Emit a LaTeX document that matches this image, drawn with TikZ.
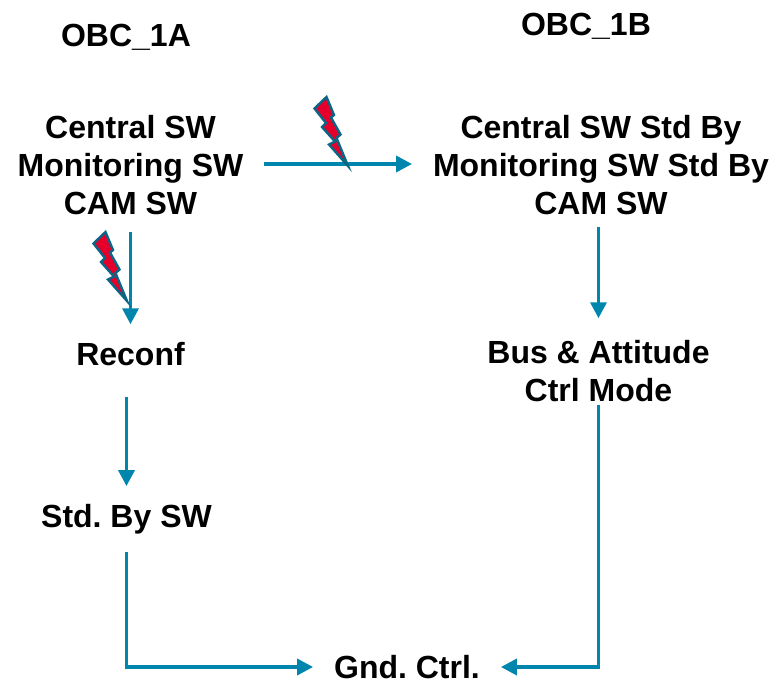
\documentclass[tikz,border=0pt]{standalone}
\usepackage{fontspec}
\setmainfont{Liberation Sans}
\usetikzlibrary{arrows.meta,calc}
\definecolor{obcfleche}{HTML}{0085AD}
\definecolor{obcbord}{HTML}{0B6585}
\definecolor{obcrouge}{HTML}{E4002B}
\frenchspacing
\tikzset{
  lbl/.style={align=center,font=\fontsize{32}{38}\selectfont\bfseries,text=black,inner sep=0pt},
  flow/.style={obcfleche,line width=3.5pt,-{Triangle[length=16pt,width=16pt]}},
  bolt/.pic={
    \draw[fill=obcrouge,draw=obcbord,line width=2.4pt,miter limit=20]
      (-21.5,-73)--(-33.5,-61.5)--(-22,-47)--(-26,-43)--(-13,-28.5)--(-19,-25.5)--(0,-4)
      --(-11.5,-32)--(-7.5,-35.5)--(-17,-52.5)--(-14,-55)--cycle;
  }
}
\begin{document}
\begin{tikzpicture}[x=1pt,y=-1pt]
  \useasboundingbox (0,0) rectangle (774,680);
  \node[lbl] (titreA) at (126,37) {OBC\_1A};
  \node[lbl] (titreB) at (586,26) {OBC\_1B};
  \node[lbl,outer xsep=21pt,outer ysep=17pt] (swA) at (130.5,165) {Central SW\\Monitoring SW\\CAM SW};
  \node[lbl,outer xsep=21pt,outer ysep=12pt] (swB) at (601,165) {Central SW Std By\\Monitoring SW Std By\\CAM SW};
  \node[lbl,outer sep=18pt] (reconf) at (130.5,354) {Reconf};
  \node[lbl,outer sep=22pt] (modeB) at (598.5,371) {Bus \& Attitude\\Ctrl Mode};
  \node[lbl,outer sep=18pt] (stdby) at (126.5,519) {Std. By SW};
  \node[lbl,outer sep=21pt] (gnd) at (407,667) {Gnd. Ctrl.};
  \coordinate (reconfbas) at (126.5,397);
  \coordinate (modebas) at (598.5,405);
  % fleches
  \draw[flow] (swA.east|-0,164) -- (swB.west|-0,164);
  \draw[flow] (swA.south) -- (reconf.north);
  \draw[flow] (reconfbas) -- (stdby.north);
  \draw[flow] (swB.south-|modeB.north) -- (modeB.north);
  \draw[flow] (stdby.south) |- (gnd.west);
  \draw[flow] (modebas) |- (gnd.east);
  % eclairs
  \pic at (348,170) {bolt};
  \pic at (127,305) {bolt};
\end{tikzpicture}
\end{document}
